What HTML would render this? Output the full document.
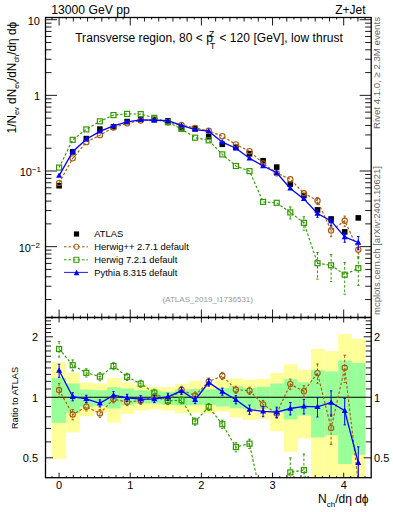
<!DOCTYPE html>
<html><head><meta charset="utf-8"><style>html,body{margin:0;padding:0;background:#fff;width:393px;height:512px;overflow:hidden}svg{display:block}</style></head>
<body><svg width="393" height="512" viewBox="0 0 393 512">
<rect width="393" height="512" fill="#fff"/>
<defs><clipPath id="cm"><rect x="45.5" y="17.5" width="325.70" height="300.00"/></clipPath><clipPath id="cr"><rect x="45.5" y="317.5" width="325.70" height="160.20"/></clipPath></defs>
<rect x="51.60" y="362.10" width="14.60" height="96.70" fill="#ffff99"/><rect x="66.20" y="372.90" width="13.60" height="59.50" fill="#ffff99"/><rect x="79.80" y="382.50" width="13.60" height="33.80" fill="#ffff99"/><rect x="93.40" y="383.50" width="13.60" height="29.00" fill="#ffff99"/><rect x="107.00" y="378.00" width="13.60" height="44.50" fill="#ffff99"/><rect x="120.60" y="382.50" width="13.60" height="31.40" fill="#ffff99"/><rect x="134.20" y="385.00" width="13.60" height="25.50" fill="#ffff99"/><rect x="147.80" y="387.00" width="13.60" height="22.50" fill="#ffff99"/><rect x="161.40" y="387.00" width="13.60" height="23.60" fill="#ffff99"/><rect x="175.00" y="383.80" width="13.60" height="29.40" fill="#ffff99"/><rect x="188.60" y="380.80" width="13.60" height="31.70" fill="#ffff99"/><rect x="202.20" y="384.50" width="13.60" height="29.00" fill="#ffff99"/><rect x="215.80" y="379.50" width="13.60" height="32.00" fill="#ffff99"/><rect x="229.40" y="378.40" width="13.60" height="39.10" fill="#ffff99"/><rect x="243.00" y="379.80" width="13.60" height="40.20" fill="#ffff99"/><rect x="256.60" y="378.80" width="13.60" height="40.20" fill="#ffff99"/><rect x="270.20" y="373.00" width="13.60" height="58.30" fill="#ffff99"/><rect x="283.80" y="364.30" width="13.60" height="87.50" fill="#ffff99"/><rect x="297.40" y="369.80" width="13.60" height="68.70" fill="#ffff99"/><rect x="311.00" y="349.00" width="13.60" height="128.70" fill="#ffff99"/><rect x="324.60" y="351.10" width="13.60" height="126.60" fill="#ffff99"/><rect x="338.20" y="334.10" width="13.60" height="143.60" fill="#ffff99"/><rect x="351.80" y="338.80" width="13.60" height="138.90" fill="#ffff99"/><rect x="51.60" y="378.00" width="14.60" height="44.80" fill="#99ff99"/><rect x="66.20" y="383.50" width="13.60" height="29.50" fill="#99ff99"/><rect x="79.80" y="389.60" width="13.60" height="17.30" fill="#99ff99"/><rect x="93.40" y="390.30" width="13.60" height="15.40" fill="#99ff99"/><rect x="107.00" y="387.30" width="13.60" height="21.20" fill="#99ff99"/><rect x="120.60" y="388.50" width="13.60" height="16.70" fill="#99ff99"/><rect x="134.20" y="390.30" width="13.60" height="13.20" fill="#99ff99"/><rect x="147.80" y="391.00" width="13.60" height="12.50" fill="#99ff99"/><rect x="161.40" y="391.80" width="13.60" height="12.90" fill="#99ff99"/><rect x="175.00" y="389.40" width="13.60" height="16.10" fill="#99ff99"/><rect x="188.60" y="389.00" width="13.60" height="16.20" fill="#99ff99"/><rect x="202.20" y="389.50" width="13.60" height="15.40" fill="#99ff99"/><rect x="215.80" y="388.00" width="13.60" height="18.50" fill="#99ff99"/><rect x="229.40" y="386.30" width="13.60" height="21.90" fill="#99ff99"/><rect x="243.00" y="388.00" width="13.60" height="21.30" fill="#99ff99"/><rect x="256.60" y="386.80" width="13.60" height="22.60" fill="#99ff99"/><rect x="270.20" y="383.50" width="13.60" height="29.00" fill="#99ff99"/><rect x="283.80" y="379.20" width="13.60" height="40.30" fill="#99ff99"/><rect x="297.40" y="382.40" width="13.60" height="33.10" fill="#99ff99"/><rect x="311.00" y="370.20" width="13.60" height="67.30" fill="#99ff99"/><rect x="324.60" y="371.50" width="13.60" height="63.70" fill="#99ff99"/><rect x="338.20" y="360.50" width="13.60" height="103.50" fill="#99ff99"/><rect x="351.80" y="363.00" width="13.60" height="91.70" fill="#99ff99"/><line x1="45.5" y1="397.30" x2="371.2" y2="397.30" stroke="#000" stroke-width="1.1"/>
<line x1="51.98" y1="17.50" x2="51.98" y2="19.50" stroke="#000" stroke-width="0.9"/><line x1="51.98" y1="315.50" x2="51.98" y2="319.10" stroke="#000" stroke-width="0.9"/><line x1="51.98" y1="477.70" x2="51.98" y2="476.10" stroke="#000" stroke-width="0.9"/><line x1="59.10" y1="17.50" x2="59.10" y2="25.50" stroke="#000" stroke-width="0.9"/><line x1="59.10" y1="309.50" x2="59.10" y2="322.50" stroke="#000" stroke-width="0.9"/><line x1="59.10" y1="477.70" x2="59.10" y2="472.70" stroke="#000" stroke-width="0.9"/><line x1="66.22" y1="17.50" x2="66.22" y2="19.50" stroke="#000" stroke-width="0.9"/><line x1="66.22" y1="315.50" x2="66.22" y2="319.10" stroke="#000" stroke-width="0.9"/><line x1="66.22" y1="477.70" x2="66.22" y2="476.10" stroke="#000" stroke-width="0.9"/><line x1="73.33" y1="17.50" x2="73.33" y2="21.50" stroke="#000" stroke-width="0.9"/><line x1="73.33" y1="313.50" x2="73.33" y2="320.30" stroke="#000" stroke-width="0.9"/><line x1="73.33" y1="477.70" x2="73.33" y2="474.90" stroke="#000" stroke-width="0.9"/><line x1="80.45" y1="17.50" x2="80.45" y2="19.50" stroke="#000" stroke-width="0.9"/><line x1="80.45" y1="315.50" x2="80.45" y2="319.10" stroke="#000" stroke-width="0.9"/><line x1="80.45" y1="477.70" x2="80.45" y2="476.10" stroke="#000" stroke-width="0.9"/><line x1="87.56" y1="17.50" x2="87.56" y2="21.50" stroke="#000" stroke-width="0.9"/><line x1="87.56" y1="313.50" x2="87.56" y2="320.30" stroke="#000" stroke-width="0.9"/><line x1="87.56" y1="477.70" x2="87.56" y2="474.90" stroke="#000" stroke-width="0.9"/><line x1="94.68" y1="17.50" x2="94.68" y2="19.50" stroke="#000" stroke-width="0.9"/><line x1="94.68" y1="315.50" x2="94.68" y2="319.10" stroke="#000" stroke-width="0.9"/><line x1="94.68" y1="477.70" x2="94.68" y2="476.10" stroke="#000" stroke-width="0.9"/><line x1="101.79" y1="17.50" x2="101.79" y2="21.50" stroke="#000" stroke-width="0.9"/><line x1="101.79" y1="313.50" x2="101.79" y2="320.30" stroke="#000" stroke-width="0.9"/><line x1="101.79" y1="477.70" x2="101.79" y2="474.90" stroke="#000" stroke-width="0.9"/><line x1="108.91" y1="17.50" x2="108.91" y2="19.50" stroke="#000" stroke-width="0.9"/><line x1="108.91" y1="315.50" x2="108.91" y2="319.10" stroke="#000" stroke-width="0.9"/><line x1="108.91" y1="477.70" x2="108.91" y2="476.10" stroke="#000" stroke-width="0.9"/><line x1="116.02" y1="17.50" x2="116.02" y2="21.50" stroke="#000" stroke-width="0.9"/><line x1="116.02" y1="313.50" x2="116.02" y2="320.30" stroke="#000" stroke-width="0.9"/><line x1="116.02" y1="477.70" x2="116.02" y2="474.90" stroke="#000" stroke-width="0.9"/><line x1="123.14" y1="17.50" x2="123.14" y2="19.50" stroke="#000" stroke-width="0.9"/><line x1="123.14" y1="315.50" x2="123.14" y2="319.10" stroke="#000" stroke-width="0.9"/><line x1="123.14" y1="477.70" x2="123.14" y2="476.10" stroke="#000" stroke-width="0.9"/><line x1="130.25" y1="17.50" x2="130.25" y2="25.50" stroke="#000" stroke-width="0.9"/><line x1="130.25" y1="309.50" x2="130.25" y2="322.50" stroke="#000" stroke-width="0.9"/><line x1="130.25" y1="477.70" x2="130.25" y2="472.70" stroke="#000" stroke-width="0.9"/><line x1="137.37" y1="17.50" x2="137.37" y2="19.50" stroke="#000" stroke-width="0.9"/><line x1="137.37" y1="315.50" x2="137.37" y2="319.10" stroke="#000" stroke-width="0.9"/><line x1="137.37" y1="477.70" x2="137.37" y2="476.10" stroke="#000" stroke-width="0.9"/><line x1="144.48" y1="17.50" x2="144.48" y2="21.50" stroke="#000" stroke-width="0.9"/><line x1="144.48" y1="313.50" x2="144.48" y2="320.30" stroke="#000" stroke-width="0.9"/><line x1="144.48" y1="477.70" x2="144.48" y2="474.90" stroke="#000" stroke-width="0.9"/><line x1="151.59" y1="17.50" x2="151.59" y2="19.50" stroke="#000" stroke-width="0.9"/><line x1="151.59" y1="315.50" x2="151.59" y2="319.10" stroke="#000" stroke-width="0.9"/><line x1="151.59" y1="477.70" x2="151.59" y2="476.10" stroke="#000" stroke-width="0.9"/><line x1="158.71" y1="17.50" x2="158.71" y2="21.50" stroke="#000" stroke-width="0.9"/><line x1="158.71" y1="313.50" x2="158.71" y2="320.30" stroke="#000" stroke-width="0.9"/><line x1="158.71" y1="477.70" x2="158.71" y2="474.90" stroke="#000" stroke-width="0.9"/><line x1="165.83" y1="17.50" x2="165.83" y2="19.50" stroke="#000" stroke-width="0.9"/><line x1="165.83" y1="315.50" x2="165.83" y2="319.10" stroke="#000" stroke-width="0.9"/><line x1="165.83" y1="477.70" x2="165.83" y2="476.10" stroke="#000" stroke-width="0.9"/><line x1="172.94" y1="17.50" x2="172.94" y2="21.50" stroke="#000" stroke-width="0.9"/><line x1="172.94" y1="313.50" x2="172.94" y2="320.30" stroke="#000" stroke-width="0.9"/><line x1="172.94" y1="477.70" x2="172.94" y2="474.90" stroke="#000" stroke-width="0.9"/><line x1="180.06" y1="17.50" x2="180.06" y2="19.50" stroke="#000" stroke-width="0.9"/><line x1="180.06" y1="315.50" x2="180.06" y2="319.10" stroke="#000" stroke-width="0.9"/><line x1="180.06" y1="477.70" x2="180.06" y2="476.10" stroke="#000" stroke-width="0.9"/><line x1="187.17" y1="17.50" x2="187.17" y2="21.50" stroke="#000" stroke-width="0.9"/><line x1="187.17" y1="313.50" x2="187.17" y2="320.30" stroke="#000" stroke-width="0.9"/><line x1="187.17" y1="477.70" x2="187.17" y2="474.90" stroke="#000" stroke-width="0.9"/><line x1="194.28" y1="17.50" x2="194.28" y2="19.50" stroke="#000" stroke-width="0.9"/><line x1="194.28" y1="315.50" x2="194.28" y2="319.10" stroke="#000" stroke-width="0.9"/><line x1="194.28" y1="477.70" x2="194.28" y2="476.10" stroke="#000" stroke-width="0.9"/><line x1="201.40" y1="17.50" x2="201.40" y2="25.50" stroke="#000" stroke-width="0.9"/><line x1="201.40" y1="309.50" x2="201.40" y2="322.50" stroke="#000" stroke-width="0.9"/><line x1="201.40" y1="477.70" x2="201.40" y2="472.70" stroke="#000" stroke-width="0.9"/><line x1="208.52" y1="17.50" x2="208.52" y2="19.50" stroke="#000" stroke-width="0.9"/><line x1="208.52" y1="315.50" x2="208.52" y2="319.10" stroke="#000" stroke-width="0.9"/><line x1="208.52" y1="477.70" x2="208.52" y2="476.10" stroke="#000" stroke-width="0.9"/><line x1="215.63" y1="17.50" x2="215.63" y2="21.50" stroke="#000" stroke-width="0.9"/><line x1="215.63" y1="313.50" x2="215.63" y2="320.30" stroke="#000" stroke-width="0.9"/><line x1="215.63" y1="477.70" x2="215.63" y2="474.90" stroke="#000" stroke-width="0.9"/><line x1="222.75" y1="17.50" x2="222.75" y2="19.50" stroke="#000" stroke-width="0.9"/><line x1="222.75" y1="315.50" x2="222.75" y2="319.10" stroke="#000" stroke-width="0.9"/><line x1="222.75" y1="477.70" x2="222.75" y2="476.10" stroke="#000" stroke-width="0.9"/><line x1="229.86" y1="17.50" x2="229.86" y2="21.50" stroke="#000" stroke-width="0.9"/><line x1="229.86" y1="313.50" x2="229.86" y2="320.30" stroke="#000" stroke-width="0.9"/><line x1="229.86" y1="477.70" x2="229.86" y2="474.90" stroke="#000" stroke-width="0.9"/><line x1="236.97" y1="17.50" x2="236.97" y2="19.50" stroke="#000" stroke-width="0.9"/><line x1="236.97" y1="315.50" x2="236.97" y2="319.10" stroke="#000" stroke-width="0.9"/><line x1="236.97" y1="477.70" x2="236.97" y2="476.10" stroke="#000" stroke-width="0.9"/><line x1="244.09" y1="17.50" x2="244.09" y2="21.50" stroke="#000" stroke-width="0.9"/><line x1="244.09" y1="313.50" x2="244.09" y2="320.30" stroke="#000" stroke-width="0.9"/><line x1="244.09" y1="477.70" x2="244.09" y2="474.90" stroke="#000" stroke-width="0.9"/><line x1="251.21" y1="17.50" x2="251.21" y2="19.50" stroke="#000" stroke-width="0.9"/><line x1="251.21" y1="315.50" x2="251.21" y2="319.10" stroke="#000" stroke-width="0.9"/><line x1="251.21" y1="477.70" x2="251.21" y2="476.10" stroke="#000" stroke-width="0.9"/><line x1="258.32" y1="17.50" x2="258.32" y2="21.50" stroke="#000" stroke-width="0.9"/><line x1="258.32" y1="313.50" x2="258.32" y2="320.30" stroke="#000" stroke-width="0.9"/><line x1="258.32" y1="477.70" x2="258.32" y2="474.90" stroke="#000" stroke-width="0.9"/><line x1="265.44" y1="17.50" x2="265.44" y2="19.50" stroke="#000" stroke-width="0.9"/><line x1="265.44" y1="315.50" x2="265.44" y2="319.10" stroke="#000" stroke-width="0.9"/><line x1="265.44" y1="477.70" x2="265.44" y2="476.10" stroke="#000" stroke-width="0.9"/><line x1="272.55" y1="17.50" x2="272.55" y2="25.50" stroke="#000" stroke-width="0.9"/><line x1="272.55" y1="309.50" x2="272.55" y2="322.50" stroke="#000" stroke-width="0.9"/><line x1="272.55" y1="477.70" x2="272.55" y2="472.70" stroke="#000" stroke-width="0.9"/><line x1="279.67" y1="17.50" x2="279.67" y2="19.50" stroke="#000" stroke-width="0.9"/><line x1="279.67" y1="315.50" x2="279.67" y2="319.10" stroke="#000" stroke-width="0.9"/><line x1="279.67" y1="477.70" x2="279.67" y2="476.10" stroke="#000" stroke-width="0.9"/><line x1="286.78" y1="17.50" x2="286.78" y2="21.50" stroke="#000" stroke-width="0.9"/><line x1="286.78" y1="313.50" x2="286.78" y2="320.30" stroke="#000" stroke-width="0.9"/><line x1="286.78" y1="477.70" x2="286.78" y2="474.90" stroke="#000" stroke-width="0.9"/><line x1="293.90" y1="17.50" x2="293.90" y2="19.50" stroke="#000" stroke-width="0.9"/><line x1="293.90" y1="315.50" x2="293.90" y2="319.10" stroke="#000" stroke-width="0.9"/><line x1="293.90" y1="477.70" x2="293.90" y2="476.10" stroke="#000" stroke-width="0.9"/><line x1="301.01" y1="17.50" x2="301.01" y2="21.50" stroke="#000" stroke-width="0.9"/><line x1="301.01" y1="313.50" x2="301.01" y2="320.30" stroke="#000" stroke-width="0.9"/><line x1="301.01" y1="477.70" x2="301.01" y2="474.90" stroke="#000" stroke-width="0.9"/><line x1="308.13" y1="17.50" x2="308.13" y2="19.50" stroke="#000" stroke-width="0.9"/><line x1="308.13" y1="315.50" x2="308.13" y2="319.10" stroke="#000" stroke-width="0.9"/><line x1="308.13" y1="477.70" x2="308.13" y2="476.10" stroke="#000" stroke-width="0.9"/><line x1="315.24" y1="17.50" x2="315.24" y2="21.50" stroke="#000" stroke-width="0.9"/><line x1="315.24" y1="313.50" x2="315.24" y2="320.30" stroke="#000" stroke-width="0.9"/><line x1="315.24" y1="477.70" x2="315.24" y2="474.90" stroke="#000" stroke-width="0.9"/><line x1="322.36" y1="17.50" x2="322.36" y2="19.50" stroke="#000" stroke-width="0.9"/><line x1="322.36" y1="315.50" x2="322.36" y2="319.10" stroke="#000" stroke-width="0.9"/><line x1="322.36" y1="477.70" x2="322.36" y2="476.10" stroke="#000" stroke-width="0.9"/><line x1="329.47" y1="17.50" x2="329.47" y2="21.50" stroke="#000" stroke-width="0.9"/><line x1="329.47" y1="313.50" x2="329.47" y2="320.30" stroke="#000" stroke-width="0.9"/><line x1="329.47" y1="477.70" x2="329.47" y2="474.90" stroke="#000" stroke-width="0.9"/><line x1="336.59" y1="17.50" x2="336.59" y2="19.50" stroke="#000" stroke-width="0.9"/><line x1="336.59" y1="315.50" x2="336.59" y2="319.10" stroke="#000" stroke-width="0.9"/><line x1="336.59" y1="477.70" x2="336.59" y2="476.10" stroke="#000" stroke-width="0.9"/><line x1="343.70" y1="17.50" x2="343.70" y2="25.50" stroke="#000" stroke-width="0.9"/><line x1="343.70" y1="309.50" x2="343.70" y2="322.50" stroke="#000" stroke-width="0.9"/><line x1="343.70" y1="477.70" x2="343.70" y2="472.70" stroke="#000" stroke-width="0.9"/><line x1="350.81" y1="17.50" x2="350.81" y2="19.50" stroke="#000" stroke-width="0.9"/><line x1="350.81" y1="315.50" x2="350.81" y2="319.10" stroke="#000" stroke-width="0.9"/><line x1="350.81" y1="477.70" x2="350.81" y2="476.10" stroke="#000" stroke-width="0.9"/><line x1="357.93" y1="17.50" x2="357.93" y2="21.50" stroke="#000" stroke-width="0.9"/><line x1="357.93" y1="313.50" x2="357.93" y2="320.30" stroke="#000" stroke-width="0.9"/><line x1="357.93" y1="477.70" x2="357.93" y2="474.90" stroke="#000" stroke-width="0.9"/><line x1="365.05" y1="17.50" x2="365.05" y2="19.50" stroke="#000" stroke-width="0.9"/><line x1="365.05" y1="315.50" x2="365.05" y2="319.10" stroke="#000" stroke-width="0.9"/><line x1="365.05" y1="477.70" x2="365.05" y2="476.10" stroke="#000" stroke-width="0.9"/><line x1="45.50" y1="299.53" x2="51.50" y2="299.53" stroke="#000" stroke-width="0.9"/><line x1="371.20" y1="299.53" x2="365.20" y2="299.53" stroke="#000" stroke-width="0.9"/><line x1="45.50" y1="286.21" x2="51.50" y2="286.21" stroke="#000" stroke-width="0.9"/><line x1="371.20" y1="286.21" x2="365.20" y2="286.21" stroke="#000" stroke-width="0.9"/><line x1="45.50" y1="276.75" x2="51.50" y2="276.75" stroke="#000" stroke-width="0.9"/><line x1="371.20" y1="276.75" x2="365.20" y2="276.75" stroke="#000" stroke-width="0.9"/><line x1="45.50" y1="269.42" x2="51.50" y2="269.42" stroke="#000" stroke-width="0.9"/><line x1="371.20" y1="269.42" x2="365.20" y2="269.42" stroke="#000" stroke-width="0.9"/><line x1="45.50" y1="263.43" x2="51.50" y2="263.43" stroke="#000" stroke-width="0.9"/><line x1="371.20" y1="263.43" x2="365.20" y2="263.43" stroke="#000" stroke-width="0.9"/><line x1="45.50" y1="258.37" x2="51.50" y2="258.37" stroke="#000" stroke-width="0.9"/><line x1="371.20" y1="258.37" x2="365.20" y2="258.37" stroke="#000" stroke-width="0.9"/><line x1="45.50" y1="253.98" x2="51.50" y2="253.98" stroke="#000" stroke-width="0.9"/><line x1="371.20" y1="253.98" x2="365.20" y2="253.98" stroke="#000" stroke-width="0.9"/><line x1="45.50" y1="250.11" x2="51.50" y2="250.11" stroke="#000" stroke-width="0.9"/><line x1="371.20" y1="250.11" x2="365.20" y2="250.11" stroke="#000" stroke-width="0.9"/><line x1="45.50" y1="246.65" x2="57.00" y2="246.65" stroke="#000" stroke-width="0.9"/><line x1="371.20" y1="246.65" x2="359.70" y2="246.65" stroke="#000" stroke-width="0.9"/><line x1="45.50" y1="223.88" x2="51.50" y2="223.88" stroke="#000" stroke-width="0.9"/><line x1="371.20" y1="223.88" x2="365.20" y2="223.88" stroke="#000" stroke-width="0.9"/><line x1="45.50" y1="210.56" x2="51.50" y2="210.56" stroke="#000" stroke-width="0.9"/><line x1="371.20" y1="210.56" x2="365.20" y2="210.56" stroke="#000" stroke-width="0.9"/><line x1="45.50" y1="201.10" x2="51.50" y2="201.10" stroke="#000" stroke-width="0.9"/><line x1="371.20" y1="201.10" x2="365.20" y2="201.10" stroke="#000" stroke-width="0.9"/><line x1="45.50" y1="193.77" x2="51.50" y2="193.77" stroke="#000" stroke-width="0.9"/><line x1="371.20" y1="193.77" x2="365.20" y2="193.77" stroke="#000" stroke-width="0.9"/><line x1="45.50" y1="187.78" x2="51.50" y2="187.78" stroke="#000" stroke-width="0.9"/><line x1="371.20" y1="187.78" x2="365.20" y2="187.78" stroke="#000" stroke-width="0.9"/><line x1="45.50" y1="182.72" x2="51.50" y2="182.72" stroke="#000" stroke-width="0.9"/><line x1="371.20" y1="182.72" x2="365.20" y2="182.72" stroke="#000" stroke-width="0.9"/><line x1="45.50" y1="178.33" x2="51.50" y2="178.33" stroke="#000" stroke-width="0.9"/><line x1="371.20" y1="178.33" x2="365.20" y2="178.33" stroke="#000" stroke-width="0.9"/><line x1="45.50" y1="174.46" x2="51.50" y2="174.46" stroke="#000" stroke-width="0.9"/><line x1="371.20" y1="174.46" x2="365.20" y2="174.46" stroke="#000" stroke-width="0.9"/><line x1="45.50" y1="171.00" x2="57.00" y2="171.00" stroke="#000" stroke-width="0.9"/><line x1="371.20" y1="171.00" x2="359.70" y2="171.00" stroke="#000" stroke-width="0.9"/><line x1="45.50" y1="148.23" x2="51.50" y2="148.23" stroke="#000" stroke-width="0.9"/><line x1="371.20" y1="148.23" x2="365.20" y2="148.23" stroke="#000" stroke-width="0.9"/><line x1="45.50" y1="134.91" x2="51.50" y2="134.91" stroke="#000" stroke-width="0.9"/><line x1="371.20" y1="134.91" x2="365.20" y2="134.91" stroke="#000" stroke-width="0.9"/><line x1="45.50" y1="125.45" x2="51.50" y2="125.45" stroke="#000" stroke-width="0.9"/><line x1="371.20" y1="125.45" x2="365.20" y2="125.45" stroke="#000" stroke-width="0.9"/><line x1="45.50" y1="118.12" x2="51.50" y2="118.12" stroke="#000" stroke-width="0.9"/><line x1="371.20" y1="118.12" x2="365.20" y2="118.12" stroke="#000" stroke-width="0.9"/><line x1="45.50" y1="112.13" x2="51.50" y2="112.13" stroke="#000" stroke-width="0.9"/><line x1="371.20" y1="112.13" x2="365.20" y2="112.13" stroke="#000" stroke-width="0.9"/><line x1="45.50" y1="107.07" x2="51.50" y2="107.07" stroke="#000" stroke-width="0.9"/><line x1="371.20" y1="107.07" x2="365.20" y2="107.07" stroke="#000" stroke-width="0.9"/><line x1="45.50" y1="102.68" x2="51.50" y2="102.68" stroke="#000" stroke-width="0.9"/><line x1="371.20" y1="102.68" x2="365.20" y2="102.68" stroke="#000" stroke-width="0.9"/><line x1="45.50" y1="98.81" x2="51.50" y2="98.81" stroke="#000" stroke-width="0.9"/><line x1="371.20" y1="98.81" x2="365.20" y2="98.81" stroke="#000" stroke-width="0.9"/><line x1="45.50" y1="95.35" x2="57.00" y2="95.35" stroke="#000" stroke-width="0.9"/><line x1="371.20" y1="95.35" x2="359.70" y2="95.35" stroke="#000" stroke-width="0.9"/><line x1="45.50" y1="72.58" x2="51.50" y2="72.58" stroke="#000" stroke-width="0.9"/><line x1="371.20" y1="72.58" x2="365.20" y2="72.58" stroke="#000" stroke-width="0.9"/><line x1="45.50" y1="59.26" x2="51.50" y2="59.26" stroke="#000" stroke-width="0.9"/><line x1="371.20" y1="59.26" x2="365.20" y2="59.26" stroke="#000" stroke-width="0.9"/><line x1="45.50" y1="49.80" x2="51.50" y2="49.80" stroke="#000" stroke-width="0.9"/><line x1="371.20" y1="49.80" x2="365.20" y2="49.80" stroke="#000" stroke-width="0.9"/><line x1="45.50" y1="42.47" x2="51.50" y2="42.47" stroke="#000" stroke-width="0.9"/><line x1="371.20" y1="42.47" x2="365.20" y2="42.47" stroke="#000" stroke-width="0.9"/><line x1="45.50" y1="36.48" x2="51.50" y2="36.48" stroke="#000" stroke-width="0.9"/><line x1="371.20" y1="36.48" x2="365.20" y2="36.48" stroke="#000" stroke-width="0.9"/><line x1="45.50" y1="31.42" x2="51.50" y2="31.42" stroke="#000" stroke-width="0.9"/><line x1="371.20" y1="31.42" x2="365.20" y2="31.42" stroke="#000" stroke-width="0.9"/><line x1="45.50" y1="27.03" x2="51.50" y2="27.03" stroke="#000" stroke-width="0.9"/><line x1="371.20" y1="27.03" x2="365.20" y2="27.03" stroke="#000" stroke-width="0.9"/><line x1="45.50" y1="23.16" x2="51.50" y2="23.16" stroke="#000" stroke-width="0.9"/><line x1="371.20" y1="23.16" x2="365.20" y2="23.16" stroke="#000" stroke-width="0.9"/><line x1="45.50" y1="19.70" x2="57.00" y2="19.70" stroke="#000" stroke-width="0.9"/><line x1="371.20" y1="19.70" x2="359.70" y2="19.70" stroke="#000" stroke-width="0.9"/><line x1="45.50" y1="457.81" x2="53.00" y2="457.81" stroke="#000" stroke-width="0.9"/><line x1="371.20" y1="457.81" x2="363.70" y2="457.81" stroke="#000" stroke-width="0.9"/><line x1="45.50" y1="441.89" x2="51.00" y2="441.89" stroke="#000" stroke-width="0.9"/><line x1="371.20" y1="441.89" x2="365.70" y2="441.89" stroke="#000" stroke-width="0.9"/><line x1="45.50" y1="428.44" x2="51.00" y2="428.44" stroke="#000" stroke-width="0.9"/><line x1="371.20" y1="428.44" x2="365.70" y2="428.44" stroke="#000" stroke-width="0.9"/><line x1="45.50" y1="416.78" x2="51.00" y2="416.78" stroke="#000" stroke-width="0.9"/><line x1="371.20" y1="416.78" x2="365.70" y2="416.78" stroke="#000" stroke-width="0.9"/><line x1="45.50" y1="406.50" x2="51.00" y2="406.50" stroke="#000" stroke-width="0.9"/><line x1="371.20" y1="406.50" x2="365.70" y2="406.50" stroke="#000" stroke-width="0.9"/><line x1="45.50" y1="388.98" x2="51.00" y2="388.98" stroke="#000" stroke-width="0.9"/><line x1="371.20" y1="388.98" x2="365.70" y2="388.98" stroke="#000" stroke-width="0.9"/><line x1="45.50" y1="381.38" x2="51.00" y2="381.38" stroke="#000" stroke-width="0.9"/><line x1="371.20" y1="381.38" x2="365.70" y2="381.38" stroke="#000" stroke-width="0.9"/><line x1="45.50" y1="374.40" x2="51.00" y2="374.40" stroke="#000" stroke-width="0.9"/><line x1="371.20" y1="374.40" x2="365.70" y2="374.40" stroke="#000" stroke-width="0.9"/><line x1="45.50" y1="367.93" x2="51.00" y2="367.93" stroke="#000" stroke-width="0.9"/><line x1="371.20" y1="367.93" x2="365.70" y2="367.93" stroke="#000" stroke-width="0.9"/><line x1="45.50" y1="361.91" x2="51.00" y2="361.91" stroke="#000" stroke-width="0.9"/><line x1="371.20" y1="361.91" x2="365.70" y2="361.91" stroke="#000" stroke-width="0.9"/><line x1="45.50" y1="356.27" x2="51.00" y2="356.27" stroke="#000" stroke-width="0.9"/><line x1="371.20" y1="356.27" x2="365.70" y2="356.27" stroke="#000" stroke-width="0.9"/><line x1="45.50" y1="350.98" x2="51.00" y2="350.98" stroke="#000" stroke-width="0.9"/><line x1="371.20" y1="350.98" x2="365.70" y2="350.98" stroke="#000" stroke-width="0.9"/><line x1="45.50" y1="345.99" x2="51.00" y2="345.99" stroke="#000" stroke-width="0.9"/><line x1="371.20" y1="345.99" x2="365.70" y2="345.99" stroke="#000" stroke-width="0.9"/><line x1="45.50" y1="341.27" x2="51.00" y2="341.27" stroke="#000" stroke-width="0.9"/><line x1="371.20" y1="341.27" x2="365.70" y2="341.27" stroke="#000" stroke-width="0.9"/><line x1="45.50" y1="336.79" x2="53.00" y2="336.79" stroke="#000" stroke-width="0.9"/><line x1="371.20" y1="336.79" x2="363.70" y2="336.79" stroke="#000" stroke-width="0.9"/><line x1="45.50" y1="332.53" x2="51.00" y2="332.53" stroke="#000" stroke-width="0.9"/><line x1="371.20" y1="332.53" x2="365.70" y2="332.53" stroke="#000" stroke-width="0.9"/><line x1="45.50" y1="328.47" x2="51.00" y2="328.47" stroke="#000" stroke-width="0.9"/><line x1="371.20" y1="328.47" x2="365.70" y2="328.47" stroke="#000" stroke-width="0.9"/><line x1="45.50" y1="324.59" x2="51.00" y2="324.59" stroke="#000" stroke-width="0.9"/><line x1="371.20" y1="324.59" x2="365.70" y2="324.59" stroke="#000" stroke-width="0.9"/><line x1="45.50" y1="320.88" x2="51.00" y2="320.88" stroke="#000" stroke-width="0.9"/><line x1="371.20" y1="320.88" x2="365.70" y2="320.88" stroke="#000" stroke-width="0.9"/>
<g clip-path="url(#cm)"><path d="M59.10,185.70 L72.70,151.90 L86.30,138.60 L99.90,129.10 L113.50,126.80 L127.10,121.60 L140.70,119.20 L154.30,119.60 L167.90,120.90 L181.50,127.80 L195.10,128.60 L208.70,136.70 L222.30,144.30 L235.90,147.30 L249.50,153.70 L263.10,160.70 L276.70,167.10 L290.30,184.20 L303.90,195.50 L317.50,209.90 L331.10,219.00 L344.70,231.90 L358.30,217.90" fill="none" stroke="#000" stroke-width="0"/><rect x="56.30" y="182.90" width="5.6" height="5.6" fill="#000"/><rect x="69.90" y="149.10" width="5.6" height="5.6" fill="#000"/><rect x="83.50" y="135.80" width="5.6" height="5.6" fill="#000"/><rect x="97.10" y="126.30" width="5.6" height="5.6" fill="#000"/><rect x="110.70" y="124.00" width="5.6" height="5.6" fill="#000"/><rect x="124.30" y="118.80" width="5.6" height="5.6" fill="#000"/><rect x="137.90" y="116.40" width="5.6" height="5.6" fill="#000"/><rect x="151.50" y="116.80" width="5.6" height="5.6" fill="#000"/><rect x="165.10" y="118.10" width="5.6" height="5.6" fill="#000"/><rect x="178.70" y="125.00" width="5.6" height="5.6" fill="#000"/><rect x="192.30" y="125.80" width="5.6" height="5.6" fill="#000"/><rect x="205.90" y="133.90" width="5.6" height="5.6" fill="#000"/><rect x="219.50" y="141.50" width="5.6" height="5.6" fill="#000"/><rect x="233.10" y="144.50" width="5.6" height="5.6" fill="#000"/><rect x="246.70" y="150.90" width="5.6" height="5.6" fill="#000"/><rect x="260.30" y="157.90" width="5.6" height="5.6" fill="#000"/><rect x="273.90" y="164.30" width="5.6" height="5.6" fill="#000"/><rect x="287.50" y="181.40" width="5.6" height="5.6" fill="#000"/><rect x="301.10" y="192.70" width="5.6" height="5.6" fill="#000"/><rect x="314.70" y="207.10" width="5.6" height="5.6" fill="#000"/><rect x="328.30" y="216.20" width="5.6" height="5.6" fill="#000"/><rect x="341.90" y="229.10" width="5.6" height="5.6" fill="#000"/><rect x="355.50" y="215.10" width="5.6" height="5.6" fill="#000"/></g><g clip-path="url(#cm)"><path d="M59.10,182.96 L72.70,158.36 L86.30,142.13 L99.90,135.15 L113.50,127.51 L127.10,123.37 L140.70,120.51 L154.30,119.41 L167.90,122.25 L181.50,124.98 L195.10,127.92 L208.70,130.80 L222.30,136.22 L235.90,144.45 L249.50,151.22 L263.10,163.37 L276.70,173.19 L290.30,179.24 L303.90,193.25 L317.50,200.81 L331.10,230.57 L344.70,220.82 L358.30,249.70" fill="none" stroke="#a8580c" stroke-width="1.15" stroke-dasharray="2.6,1.9"/><line x1="317.50" y1="197.38" x2="317.50" y2="204.64" stroke="#a8580c" stroke-width="1" stroke-dasharray="2.6,1.9"/><line x1="316.30" y1="197.38" x2="318.70" y2="197.38" stroke="#a8580c" stroke-width="1"/><line x1="316.30" y1="204.64" x2="318.70" y2="204.64" stroke="#a8580c" stroke-width="1"/><line x1="331.10" y1="225.41" x2="331.10" y2="236.69" stroke="#a8580c" stroke-width="1" stroke-dasharray="2.6,1.9"/><line x1="329.90" y1="225.41" x2="332.30" y2="225.41" stroke="#a8580c" stroke-width="1"/><line x1="329.90" y1="236.69" x2="332.30" y2="236.69" stroke="#a8580c" stroke-width="1"/><line x1="344.70" y1="216.08" x2="344.70" y2="226.35" stroke="#a8580c" stroke-width="1" stroke-dasharray="2.6,1.9"/><line x1="343.50" y1="216.08" x2="345.90" y2="216.08" stroke="#a8580c" stroke-width="1"/><line x1="343.50" y1="226.35" x2="345.90" y2="226.35" stroke="#a8580c" stroke-width="1"/><line x1="358.30" y1="243.06" x2="358.30" y2="258.03" stroke="#a8580c" stroke-width="1" stroke-dasharray="2.6,1.9"/><line x1="357.10" y1="243.06" x2="359.50" y2="243.06" stroke="#a8580c" stroke-width="1"/><line x1="357.10" y1="258.03" x2="359.50" y2="258.03" stroke="#a8580c" stroke-width="1"/><circle cx="59.10" cy="182.96" r="2.65" fill="none" stroke="#a8580c" stroke-width="1.1"/><circle cx="72.70" cy="158.36" r="2.65" fill="none" stroke="#a8580c" stroke-width="1.1"/><circle cx="86.30" cy="142.13" r="2.65" fill="none" stroke="#a8580c" stroke-width="1.1"/><circle cx="99.90" cy="135.15" r="2.65" fill="none" stroke="#a8580c" stroke-width="1.1"/><circle cx="113.50" cy="127.51" r="2.65" fill="none" stroke="#a8580c" stroke-width="1.1"/><circle cx="127.10" cy="123.37" r="2.65" fill="none" stroke="#a8580c" stroke-width="1.1"/><circle cx="140.70" cy="120.51" r="2.65" fill="none" stroke="#a8580c" stroke-width="1.1"/><circle cx="154.30" cy="119.41" r="2.65" fill="none" stroke="#a8580c" stroke-width="1.1"/><circle cx="167.90" cy="122.25" r="2.65" fill="none" stroke="#a8580c" stroke-width="1.1"/><circle cx="181.50" cy="124.98" r="2.65" fill="none" stroke="#a8580c" stroke-width="1.1"/><circle cx="195.10" cy="127.92" r="2.65" fill="none" stroke="#a8580c" stroke-width="1.1"/><circle cx="208.70" cy="130.80" r="2.65" fill="none" stroke="#a8580c" stroke-width="1.1"/><circle cx="222.30" cy="136.22" r="2.65" fill="none" stroke="#a8580c" stroke-width="1.1"/><circle cx="235.90" cy="144.45" r="2.65" fill="none" stroke="#a8580c" stroke-width="1.1"/><circle cx="249.50" cy="151.22" r="2.65" fill="none" stroke="#a8580c" stroke-width="1.1"/><circle cx="263.10" cy="163.37" r="2.65" fill="none" stroke="#a8580c" stroke-width="1.1"/><circle cx="276.70" cy="173.19" r="2.65" fill="none" stroke="#a8580c" stroke-width="1.1"/><circle cx="290.30" cy="179.24" r="2.65" fill="none" stroke="#a8580c" stroke-width="1.1"/><circle cx="303.90" cy="193.25" r="2.65" fill="none" stroke="#a8580c" stroke-width="1.1"/><circle cx="317.50" cy="200.81" r="2.65" fill="none" stroke="#a8580c" stroke-width="1.1"/><circle cx="331.10" cy="230.57" r="2.65" fill="none" stroke="#a8580c" stroke-width="1.1"/><circle cx="344.70" cy="220.82" r="2.65" fill="none" stroke="#a8580c" stroke-width="1.1"/><circle cx="358.30" cy="249.70" r="2.65" fill="none" stroke="#a8580c" stroke-width="1.1"/></g><g clip-path="url(#cm)"><path d="M59.10,167.56 L72.70,139.84 L86.30,129.40 L99.90,121.32 L113.50,115.08 L127.10,113.90 L140.70,114.09 L154.30,117.87 L167.90,122.25 L181.50,128.89 L195.10,137.69 L208.70,140.34 L222.30,154.40 L235.90,166.01 L249.50,171.13 L263.10,201.90 L276.70,202.80 L290.30,212.41 L303.90,222.81 L317.50,263.20 L331.10,265.30 L344.70,274.70 L358.30,268.10" fill="none" stroke="#339900" stroke-width="1.15" stroke-dasharray="2.6,1.9"/><line x1="290.30" y1="206.95" x2="290.30" y2="218.96" stroke="#339900" stroke-width="1" stroke-dasharray="2.6,1.9"/><line x1="289.10" y1="206.95" x2="291.50" y2="206.95" stroke="#339900" stroke-width="1"/><line x1="289.10" y1="218.96" x2="291.50" y2="218.96" stroke="#339900" stroke-width="1"/><line x1="303.90" y1="216.79" x2="303.90" y2="230.19" stroke="#339900" stroke-width="1" stroke-dasharray="2.6,1.9"/><line x1="302.70" y1="216.79" x2="305.10" y2="216.79" stroke="#339900" stroke-width="1"/><line x1="302.70" y1="230.19" x2="305.10" y2="230.19" stroke="#339900" stroke-width="1"/><line x1="317.50" y1="252.50" x2="317.50" y2="279.17" stroke="#339900" stroke-width="1" stroke-dasharray="2.6,1.9"/><line x1="316.30" y1="252.50" x2="318.70" y2="252.50" stroke="#339900" stroke-width="1"/><line x1="316.30" y1="279.17" x2="318.70" y2="279.17" stroke="#339900" stroke-width="1"/><line x1="331.10" y1="254.48" x2="331.10" y2="281.54" stroke="#339900" stroke-width="1" stroke-dasharray="2.6,1.9"/><line x1="329.90" y1="254.48" x2="332.30" y2="254.48" stroke="#339900" stroke-width="1"/><line x1="329.90" y1="281.54" x2="332.30" y2="281.54" stroke="#339900" stroke-width="1"/><line x1="344.70" y1="262.56" x2="344.70" y2="294.16" stroke="#339900" stroke-width="1" stroke-dasharray="2.6,1.9"/><line x1="343.50" y1="262.56" x2="345.90" y2="262.56" stroke="#339900" stroke-width="1"/><line x1="343.50" y1="294.16" x2="345.90" y2="294.16" stroke="#339900" stroke-width="1"/><line x1="358.30" y1="256.81" x2="358.30" y2="285.44" stroke="#339900" stroke-width="1" stroke-dasharray="2.6,1.9"/><line x1="357.10" y1="256.81" x2="359.50" y2="256.81" stroke="#339900" stroke-width="1"/><line x1="357.10" y1="285.44" x2="359.50" y2="285.44" stroke="#339900" stroke-width="1"/><rect x="56.60" y="165.06" width="5.0" height="5.0" fill="none" stroke="#339900" stroke-width="1.2"/><rect x="70.20" y="137.34" width="5.0" height="5.0" fill="none" stroke="#339900" stroke-width="1.2"/><rect x="83.80" y="126.90" width="5.0" height="5.0" fill="none" stroke="#339900" stroke-width="1.2"/><rect x="97.40" y="118.82" width="5.0" height="5.0" fill="none" stroke="#339900" stroke-width="1.2"/><rect x="111.00" y="112.58" width="5.0" height="5.0" fill="none" stroke="#339900" stroke-width="1.2"/><rect x="124.60" y="111.40" width="5.0" height="5.0" fill="none" stroke="#339900" stroke-width="1.2"/><rect x="138.20" y="111.59" width="5.0" height="5.0" fill="none" stroke="#339900" stroke-width="1.2"/><rect x="151.80" y="115.37" width="5.0" height="5.0" fill="none" stroke="#339900" stroke-width="1.2"/><rect x="165.40" y="119.75" width="5.0" height="5.0" fill="none" stroke="#339900" stroke-width="1.2"/><rect x="179.00" y="126.39" width="5.0" height="5.0" fill="none" stroke="#339900" stroke-width="1.2"/><rect x="192.60" y="135.19" width="5.0" height="5.0" fill="none" stroke="#339900" stroke-width="1.2"/><rect x="206.20" y="137.84" width="5.0" height="5.0" fill="none" stroke="#339900" stroke-width="1.2"/><rect x="219.80" y="151.90" width="5.0" height="5.0" fill="none" stroke="#339900" stroke-width="1.2"/><rect x="233.40" y="163.51" width="5.0" height="5.0" fill="none" stroke="#339900" stroke-width="1.2"/><rect x="247.00" y="168.63" width="5.0" height="5.0" fill="none" stroke="#339900" stroke-width="1.2"/><rect x="260.60" y="199.40" width="5.0" height="5.0" fill="none" stroke="#339900" stroke-width="1.2"/><rect x="274.20" y="200.30" width="5.0" height="5.0" fill="none" stroke="#339900" stroke-width="1.2"/><rect x="287.80" y="209.91" width="5.0" height="5.0" fill="none" stroke="#339900" stroke-width="1.2"/><rect x="301.40" y="220.31" width="5.0" height="5.0" fill="none" stroke="#339900" stroke-width="1.2"/><rect x="315.00" y="260.70" width="5.0" height="5.0" fill="none" stroke="#339900" stroke-width="1.2"/><rect x="328.60" y="262.80" width="5.0" height="5.0" fill="none" stroke="#339900" stroke-width="1.2"/><rect x="342.20" y="272.20" width="5.0" height="5.0" fill="none" stroke="#339900" stroke-width="1.2"/><rect x="355.80" y="265.60" width="5.0" height="5.0" fill="none" stroke="#339900" stroke-width="1.2"/></g><g clip-path="url(#cm)"><path d="M59.10,175.63 L72.70,151.67 L86.30,139.16 L99.90,131.35 L113.50,125.97 L127.10,121.79 L140.70,119.88 L154.30,120.24 L167.90,120.71 L181.50,125.36 L195.10,129.58 L208.70,131.14 L222.30,142.16 L235.90,148.20 L249.50,158.32 L263.10,166.00 L276.70,172.70 L290.30,188.41 L303.90,198.92 L317.50,213.47 L331.10,220.95 L344.70,236.93 L358.30,242.50" fill="none" stroke="#0000ff" stroke-width="1.3"/><line x1="317.50" y1="210.04" x2="317.50" y2="217.30" stroke="#0000ff" stroke-width="1"/><line x1="316.30" y1="210.04" x2="318.70" y2="210.04" stroke="#0000ff" stroke-width="1"/><line x1="316.30" y1="217.30" x2="318.70" y2="217.30" stroke="#0000ff" stroke-width="1"/><line x1="331.10" y1="216.56" x2="331.10" y2="226.02" stroke="#0000ff" stroke-width="1"/><line x1="329.90" y1="216.56" x2="332.30" y2="216.56" stroke="#0000ff" stroke-width="1"/><line x1="329.90" y1="226.02" x2="332.30" y2="226.02" stroke="#0000ff" stroke-width="1"/><line x1="344.70" y1="232.34" x2="344.70" y2="242.27" stroke="#0000ff" stroke-width="1"/><line x1="343.50" y1="232.34" x2="345.90" y2="232.34" stroke="#0000ff" stroke-width="1"/><line x1="343.50" y1="242.27" x2="345.90" y2="242.27" stroke="#0000ff" stroke-width="1"/><line x1="358.30" y1="236.51" x2="358.30" y2="249.83" stroke="#0000ff" stroke-width="1"/><line x1="357.10" y1="236.51" x2="359.50" y2="236.51" stroke="#0000ff" stroke-width="1"/><line x1="357.10" y1="249.83" x2="359.50" y2="249.83" stroke="#0000ff" stroke-width="1"/><path d="M59.10,172.43 L62.10,177.83 L56.10,177.83 Z" fill="#0000ff"/><path d="M72.70,148.47 L75.70,153.87 L69.70,153.87 Z" fill="#0000ff"/><path d="M86.30,135.96 L89.30,141.36 L83.30,141.36 Z" fill="#0000ff"/><path d="M99.90,128.15 L102.90,133.55 L96.90,133.55 Z" fill="#0000ff"/><path d="M113.50,122.77 L116.50,128.17 L110.50,128.17 Z" fill="#0000ff"/><path d="M127.10,118.59 L130.10,123.99 L124.10,123.99 Z" fill="#0000ff"/><path d="M140.70,116.68 L143.70,122.08 L137.70,122.08 Z" fill="#0000ff"/><path d="M154.30,117.04 L157.30,122.44 L151.30,122.44 Z" fill="#0000ff"/><path d="M167.90,117.51 L170.90,122.91 L164.90,122.91 Z" fill="#0000ff"/><path d="M181.50,122.16 L184.50,127.56 L178.50,127.56 Z" fill="#0000ff"/><path d="M195.10,126.38 L198.10,131.78 L192.10,131.78 Z" fill="#0000ff"/><path d="M208.70,127.94 L211.70,133.34 L205.70,133.34 Z" fill="#0000ff"/><path d="M222.30,138.96 L225.30,144.36 L219.30,144.36 Z" fill="#0000ff"/><path d="M235.90,145.00 L238.90,150.40 L232.90,150.40 Z" fill="#0000ff"/><path d="M249.50,155.12 L252.50,160.52 L246.50,160.52 Z" fill="#0000ff"/><path d="M263.10,162.80 L266.10,168.20 L260.10,168.20 Z" fill="#0000ff"/><path d="M276.70,169.50 L279.70,174.90 L273.70,174.90 Z" fill="#0000ff"/><path d="M290.30,185.21 L293.30,190.61 L287.30,190.61 Z" fill="#0000ff"/><path d="M303.90,195.72 L306.90,201.12 L300.90,201.12 Z" fill="#0000ff"/><path d="M317.50,210.27 L320.50,215.67 L314.50,215.67 Z" fill="#0000ff"/><path d="M331.10,217.75 L334.10,223.15 L328.10,223.15 Z" fill="#0000ff"/><path d="M344.70,233.73 L347.70,239.13 L341.70,239.13 Z" fill="#0000ff"/><path d="M358.30,239.30 L361.30,244.70 L355.30,244.70 Z" fill="#0000ff"/></g>
<g clip-path="url(#cr)"><path d="M59.10,390.00 L72.70,414.50 L86.30,406.70 L99.90,413.40 L113.50,399.20 L127.10,402.00 L140.70,400.80 L154.30,396.80 L167.90,400.90 L181.50,389.80 L195.10,395.50 L208.70,381.60 L222.30,375.80 L235.90,389.70 L249.50,390.70 L263.10,404.40 L276.70,413.50 L290.30,384.10 L303.90,391.30 L317.50,373.10 L331.10,428.10 L344.70,367.80 L358.30,481.96" fill="none" stroke="#a8580c" stroke-width="1.15" stroke-dasharray="2.6,1.9"/><line x1="59.10" y1="383.50" x2="59.10" y2="397.02" stroke="#a8580c" stroke-width="1" stroke-dasharray="2.6,1.9"/><line x1="57.90" y1="383.50" x2="60.30" y2="383.50" stroke="#a8580c" stroke-width="1"/><line x1="57.90" y1="397.02" x2="60.30" y2="397.02" stroke="#a8580c" stroke-width="1"/><line x1="72.70" y1="409.50" x2="72.70" y2="419.80" stroke="#a8580c" stroke-width="1" stroke-dasharray="2.6,1.9"/><line x1="71.50" y1="409.50" x2="73.90" y2="409.50" stroke="#a8580c" stroke-width="1"/><line x1="71.50" y1="419.80" x2="73.90" y2="419.80" stroke="#a8580c" stroke-width="1"/><line x1="86.30" y1="402.70" x2="86.30" y2="410.89" stroke="#a8580c" stroke-width="1" stroke-dasharray="2.6,1.9"/><line x1="85.10" y1="402.70" x2="87.50" y2="402.70" stroke="#a8580c" stroke-width="1"/><line x1="85.10" y1="410.89" x2="87.50" y2="410.89" stroke="#a8580c" stroke-width="1"/><line x1="99.90" y1="409.40" x2="99.90" y2="417.59" stroke="#a8580c" stroke-width="1" stroke-dasharray="2.6,1.9"/><line x1="98.70" y1="409.40" x2="101.10" y2="409.40" stroke="#a8580c" stroke-width="1"/><line x1="98.70" y1="417.59" x2="101.10" y2="417.59" stroke="#a8580c" stroke-width="1"/><line x1="113.50" y1="395.70" x2="113.50" y2="402.85" stroke="#a8580c" stroke-width="1" stroke-dasharray="2.6,1.9"/><line x1="112.30" y1="395.70" x2="114.70" y2="395.70" stroke="#a8580c" stroke-width="1"/><line x1="112.30" y1="402.85" x2="114.70" y2="402.85" stroke="#a8580c" stroke-width="1"/><line x1="127.10" y1="398.50" x2="127.10" y2="405.65" stroke="#a8580c" stroke-width="1" stroke-dasharray="2.6,1.9"/><line x1="125.90" y1="398.50" x2="128.30" y2="398.50" stroke="#a8580c" stroke-width="1"/><line x1="125.90" y1="405.65" x2="128.30" y2="405.65" stroke="#a8580c" stroke-width="1"/><line x1="140.70" y1="397.30" x2="140.70" y2="404.45" stroke="#a8580c" stroke-width="1" stroke-dasharray="2.6,1.9"/><line x1="139.50" y1="397.30" x2="141.90" y2="397.30" stroke="#a8580c" stroke-width="1"/><line x1="139.50" y1="404.45" x2="141.90" y2="404.45" stroke="#a8580c" stroke-width="1"/><line x1="154.30" y1="393.30" x2="154.30" y2="400.45" stroke="#a8580c" stroke-width="1" stroke-dasharray="2.6,1.9"/><line x1="153.10" y1="393.30" x2="155.50" y2="393.30" stroke="#a8580c" stroke-width="1"/><line x1="153.10" y1="400.45" x2="155.50" y2="400.45" stroke="#a8580c" stroke-width="1"/><line x1="167.90" y1="397.40" x2="167.90" y2="404.55" stroke="#a8580c" stroke-width="1" stroke-dasharray="2.6,1.9"/><line x1="166.70" y1="397.40" x2="169.10" y2="397.40" stroke="#a8580c" stroke-width="1"/><line x1="166.70" y1="404.55" x2="169.10" y2="404.55" stroke="#a8580c" stroke-width="1"/><line x1="181.50" y1="386.30" x2="181.50" y2="393.45" stroke="#a8580c" stroke-width="1" stroke-dasharray="2.6,1.9"/><line x1="180.30" y1="386.30" x2="182.70" y2="386.30" stroke="#a8580c" stroke-width="1"/><line x1="180.30" y1="393.45" x2="182.70" y2="393.45" stroke="#a8580c" stroke-width="1"/><line x1="195.10" y1="392.00" x2="195.10" y2="399.15" stroke="#a8580c" stroke-width="1" stroke-dasharray="2.6,1.9"/><line x1="193.90" y1="392.00" x2="196.30" y2="392.00" stroke="#a8580c" stroke-width="1"/><line x1="193.90" y1="399.15" x2="196.30" y2="399.15" stroke="#a8580c" stroke-width="1"/><line x1="208.70" y1="378.10" x2="208.70" y2="385.25" stroke="#a8580c" stroke-width="1" stroke-dasharray="2.6,1.9"/><line x1="207.50" y1="378.10" x2="209.90" y2="378.10" stroke="#a8580c" stroke-width="1"/><line x1="207.50" y1="385.25" x2="209.90" y2="385.25" stroke="#a8580c" stroke-width="1"/><line x1="222.30" y1="372.30" x2="222.30" y2="379.45" stroke="#a8580c" stroke-width="1" stroke-dasharray="2.6,1.9"/><line x1="221.10" y1="372.30" x2="223.50" y2="372.30" stroke="#a8580c" stroke-width="1"/><line x1="221.10" y1="379.45" x2="223.50" y2="379.45" stroke="#a8580c" stroke-width="1"/><line x1="235.90" y1="386.20" x2="235.90" y2="393.35" stroke="#a8580c" stroke-width="1" stroke-dasharray="2.6,1.9"/><line x1="234.70" y1="386.20" x2="237.10" y2="386.20" stroke="#a8580c" stroke-width="1"/><line x1="234.70" y1="393.35" x2="237.10" y2="393.35" stroke="#a8580c" stroke-width="1"/><line x1="249.50" y1="387.20" x2="249.50" y2="394.35" stroke="#a8580c" stroke-width="1" stroke-dasharray="2.6,1.9"/><line x1="248.30" y1="387.20" x2="250.70" y2="387.20" stroke="#a8580c" stroke-width="1"/><line x1="248.30" y1="394.35" x2="250.70" y2="394.35" stroke="#a8580c" stroke-width="1"/><line x1="263.10" y1="400.40" x2="263.10" y2="408.59" stroke="#a8580c" stroke-width="1" stroke-dasharray="2.6,1.9"/><line x1="261.90" y1="400.40" x2="264.30" y2="400.40" stroke="#a8580c" stroke-width="1"/><line x1="261.90" y1="408.59" x2="264.30" y2="408.59" stroke="#a8580c" stroke-width="1"/><line x1="276.70" y1="409.00" x2="276.70" y2="418.24" stroke="#a8580c" stroke-width="1" stroke-dasharray="2.6,1.9"/><line x1="275.50" y1="409.00" x2="277.90" y2="409.00" stroke="#a8580c" stroke-width="1"/><line x1="275.50" y1="418.24" x2="277.90" y2="418.24" stroke="#a8580c" stroke-width="1"/><line x1="290.30" y1="379.10" x2="290.30" y2="389.40" stroke="#a8580c" stroke-width="1" stroke-dasharray="2.6,1.9"/><line x1="289.10" y1="379.10" x2="291.50" y2="379.10" stroke="#a8580c" stroke-width="1"/><line x1="289.10" y1="389.40" x2="291.50" y2="389.40" stroke="#a8580c" stroke-width="1"/><line x1="303.90" y1="385.80" x2="303.90" y2="397.17" stroke="#a8580c" stroke-width="1" stroke-dasharray="2.6,1.9"/><line x1="302.70" y1="385.80" x2="305.10" y2="385.80" stroke="#a8580c" stroke-width="1"/><line x1="302.70" y1="397.17" x2="305.10" y2="397.17" stroke="#a8580c" stroke-width="1"/><line x1="317.50" y1="363.99" x2="317.50" y2="383.27" stroke="#a8580c" stroke-width="1" stroke-dasharray="2.6,1.9"/><line x1="316.30" y1="363.99" x2="318.70" y2="363.99" stroke="#a8580c" stroke-width="1"/><line x1="316.30" y1="383.27" x2="318.70" y2="383.27" stroke="#a8580c" stroke-width="1"/><line x1="331.10" y1="414.39" x2="331.10" y2="444.37" stroke="#a8580c" stroke-width="1" stroke-dasharray="2.6,1.9"/><line x1="329.90" y1="414.39" x2="332.30" y2="414.39" stroke="#a8580c" stroke-width="1"/><line x1="329.90" y1="444.37" x2="332.30" y2="444.37" stroke="#a8580c" stroke-width="1"/><line x1="344.70" y1="355.22" x2="344.70" y2="382.50" stroke="#a8580c" stroke-width="1" stroke-dasharray="2.6,1.9"/><line x1="343.50" y1="355.22" x2="345.90" y2="355.22" stroke="#a8580c" stroke-width="1"/><line x1="343.50" y1="382.50" x2="345.90" y2="382.50" stroke="#a8580c" stroke-width="1"/><line x1="358.30" y1="464.32" x2="358.30" y2="504.10" stroke="#a8580c" stroke-width="1" stroke-dasharray="2.6,1.9"/><line x1="357.10" y1="464.32" x2="359.50" y2="464.32" stroke="#a8580c" stroke-width="1"/><line x1="357.10" y1="504.10" x2="359.50" y2="504.10" stroke="#a8580c" stroke-width="1"/><circle cx="59.10" cy="390.00" r="2.65" fill="none" stroke="#a8580c" stroke-width="1.1"/><circle cx="72.70" cy="414.50" r="2.65" fill="none" stroke="#a8580c" stroke-width="1.1"/><circle cx="86.30" cy="406.70" r="2.65" fill="none" stroke="#a8580c" stroke-width="1.1"/><circle cx="99.90" cy="413.40" r="2.65" fill="none" stroke="#a8580c" stroke-width="1.1"/><circle cx="113.50" cy="399.20" r="2.65" fill="none" stroke="#a8580c" stroke-width="1.1"/><circle cx="127.10" cy="402.00" r="2.65" fill="none" stroke="#a8580c" stroke-width="1.1"/><circle cx="140.70" cy="400.80" r="2.65" fill="none" stroke="#a8580c" stroke-width="1.1"/><circle cx="154.30" cy="396.80" r="2.65" fill="none" stroke="#a8580c" stroke-width="1.1"/><circle cx="167.90" cy="400.90" r="2.65" fill="none" stroke="#a8580c" stroke-width="1.1"/><circle cx="181.50" cy="389.80" r="2.65" fill="none" stroke="#a8580c" stroke-width="1.1"/><circle cx="195.10" cy="395.50" r="2.65" fill="none" stroke="#a8580c" stroke-width="1.1"/><circle cx="208.70" cy="381.60" r="2.65" fill="none" stroke="#a8580c" stroke-width="1.1"/><circle cx="222.30" cy="375.80" r="2.65" fill="none" stroke="#a8580c" stroke-width="1.1"/><circle cx="235.90" cy="389.70" r="2.65" fill="none" stroke="#a8580c" stroke-width="1.1"/><circle cx="249.50" cy="390.70" r="2.65" fill="none" stroke="#a8580c" stroke-width="1.1"/><circle cx="263.10" cy="404.40" r="2.65" fill="none" stroke="#a8580c" stroke-width="1.1"/><circle cx="276.70" cy="413.50" r="2.65" fill="none" stroke="#a8580c" stroke-width="1.1"/><circle cx="290.30" cy="384.10" r="2.65" fill="none" stroke="#a8580c" stroke-width="1.1"/><circle cx="303.90" cy="391.30" r="2.65" fill="none" stroke="#a8580c" stroke-width="1.1"/><circle cx="317.50" cy="373.10" r="2.65" fill="none" stroke="#a8580c" stroke-width="1.1"/><circle cx="331.10" cy="428.10" r="2.65" fill="none" stroke="#a8580c" stroke-width="1.1"/><circle cx="344.70" cy="367.80" r="2.65" fill="none" stroke="#a8580c" stroke-width="1.1"/><circle cx="358.30" cy="481.96" r="2.65" fill="none" stroke="#a8580c" stroke-width="1.1"/></g><g clip-path="url(#cr)"><path d="M59.10,349.00 L72.70,365.20 L86.30,372.80 L99.90,376.60 L113.50,366.10 L127.10,376.80 L140.70,383.70 L154.30,392.70 L167.90,400.90 L181.50,400.20 L195.10,421.50 L208.70,407.00 L222.30,424.20 L235.90,447.10 L249.50,443.70 L263.10,506.98 L276.70,492.34 L290.30,472.40 L303.90,470.00 L317.50,539.20 L331.10,520.56 L344.70,511.24 L358.30,530.95" fill="none" stroke="#339900" stroke-width="1.15" stroke-dasharray="2.6,1.9"/><line x1="59.10" y1="341.70" x2="59.10" y2="356.97" stroke="#339900" stroke-width="1" stroke-dasharray="2.6,1.9"/><line x1="57.90" y1="341.70" x2="60.30" y2="341.70" stroke="#339900" stroke-width="1"/><line x1="57.90" y1="356.97" x2="60.30" y2="356.97" stroke="#339900" stroke-width="1"/><line x1="72.70" y1="359.90" x2="72.70" y2="370.84" stroke="#339900" stroke-width="1" stroke-dasharray="2.6,1.9"/><line x1="71.50" y1="359.90" x2="73.90" y2="359.90" stroke="#339900" stroke-width="1"/><line x1="71.50" y1="370.84" x2="73.90" y2="370.84" stroke="#339900" stroke-width="1"/><line x1="86.30" y1="368.80" x2="86.30" y2="376.99" stroke="#339900" stroke-width="1" stroke-dasharray="2.6,1.9"/><line x1="85.10" y1="368.80" x2="87.50" y2="368.80" stroke="#339900" stroke-width="1"/><line x1="85.10" y1="376.99" x2="87.50" y2="376.99" stroke="#339900" stroke-width="1"/><line x1="99.90" y1="372.60" x2="99.90" y2="380.79" stroke="#339900" stroke-width="1" stroke-dasharray="2.6,1.9"/><line x1="98.70" y1="372.60" x2="101.10" y2="372.60" stroke="#339900" stroke-width="1"/><line x1="98.70" y1="380.79" x2="101.10" y2="380.79" stroke="#339900" stroke-width="1"/><line x1="113.50" y1="362.60" x2="113.50" y2="369.75" stroke="#339900" stroke-width="1" stroke-dasharray="2.6,1.9"/><line x1="112.30" y1="362.60" x2="114.70" y2="362.60" stroke="#339900" stroke-width="1"/><line x1="112.30" y1="369.75" x2="114.70" y2="369.75" stroke="#339900" stroke-width="1"/><line x1="127.10" y1="373.30" x2="127.10" y2="380.45" stroke="#339900" stroke-width="1" stroke-dasharray="2.6,1.9"/><line x1="125.90" y1="373.30" x2="128.30" y2="373.30" stroke="#339900" stroke-width="1"/><line x1="125.90" y1="380.45" x2="128.30" y2="380.45" stroke="#339900" stroke-width="1"/><line x1="140.70" y1="380.20" x2="140.70" y2="387.35" stroke="#339900" stroke-width="1" stroke-dasharray="2.6,1.9"/><line x1="139.50" y1="380.20" x2="141.90" y2="380.20" stroke="#339900" stroke-width="1"/><line x1="139.50" y1="387.35" x2="141.90" y2="387.35" stroke="#339900" stroke-width="1"/><line x1="154.30" y1="389.20" x2="154.30" y2="396.35" stroke="#339900" stroke-width="1" stroke-dasharray="2.6,1.9"/><line x1="153.10" y1="389.20" x2="155.50" y2="389.20" stroke="#339900" stroke-width="1"/><line x1="153.10" y1="396.35" x2="155.50" y2="396.35" stroke="#339900" stroke-width="1"/><line x1="167.90" y1="397.40" x2="167.90" y2="404.55" stroke="#339900" stroke-width="1" stroke-dasharray="2.6,1.9"/><line x1="166.70" y1="397.40" x2="169.10" y2="397.40" stroke="#339900" stroke-width="1"/><line x1="166.70" y1="404.55" x2="169.10" y2="404.55" stroke="#339900" stroke-width="1"/><line x1="181.50" y1="396.70" x2="181.50" y2="403.85" stroke="#339900" stroke-width="1" stroke-dasharray="2.6,1.9"/><line x1="180.30" y1="396.70" x2="182.70" y2="396.70" stroke="#339900" stroke-width="1"/><line x1="180.30" y1="403.85" x2="182.70" y2="403.85" stroke="#339900" stroke-width="1"/><line x1="195.10" y1="418.00" x2="195.10" y2="425.15" stroke="#339900" stroke-width="1" stroke-dasharray="2.6,1.9"/><line x1="193.90" y1="418.00" x2="196.30" y2="418.00" stroke="#339900" stroke-width="1"/><line x1="193.90" y1="425.15" x2="196.30" y2="425.15" stroke="#339900" stroke-width="1"/><line x1="208.70" y1="403.50" x2="208.70" y2="410.65" stroke="#339900" stroke-width="1" stroke-dasharray="2.6,1.9"/><line x1="207.50" y1="403.50" x2="209.90" y2="403.50" stroke="#339900" stroke-width="1"/><line x1="207.50" y1="410.65" x2="209.90" y2="410.65" stroke="#339900" stroke-width="1"/><line x1="222.30" y1="420.20" x2="222.30" y2="428.39" stroke="#339900" stroke-width="1" stroke-dasharray="2.6,1.9"/><line x1="221.10" y1="420.20" x2="223.50" y2="420.20" stroke="#339900" stroke-width="1"/><line x1="221.10" y1="428.39" x2="223.50" y2="428.39" stroke="#339900" stroke-width="1"/><line x1="235.90" y1="442.60" x2="235.90" y2="451.84" stroke="#339900" stroke-width="1" stroke-dasharray="2.6,1.9"/><line x1="234.70" y1="442.60" x2="237.10" y2="442.60" stroke="#339900" stroke-width="1"/><line x1="234.70" y1="451.84" x2="237.10" y2="451.84" stroke="#339900" stroke-width="1"/><line x1="249.50" y1="439.20" x2="249.50" y2="448.44" stroke="#339900" stroke-width="1" stroke-dasharray="2.6,1.9"/><line x1="248.30" y1="439.20" x2="250.70" y2="439.20" stroke="#339900" stroke-width="1"/><line x1="248.30" y1="448.44" x2="250.70" y2="448.44" stroke="#339900" stroke-width="1"/><line x1="263.10" y1="501.98" x2="263.10" y2="512.29" stroke="#339900" stroke-width="1" stroke-dasharray="2.6,1.9"/><line x1="261.90" y1="501.98" x2="264.30" y2="501.98" stroke="#339900" stroke-width="1"/><line x1="261.90" y1="512.29" x2="264.30" y2="512.29" stroke="#339900" stroke-width="1"/><line x1="276.70" y1="487.34" x2="276.70" y2="497.65" stroke="#339900" stroke-width="1" stroke-dasharray="2.6,1.9"/><line x1="275.50" y1="487.34" x2="277.90" y2="487.34" stroke="#339900" stroke-width="1"/><line x1="275.50" y1="497.65" x2="277.90" y2="497.65" stroke="#339900" stroke-width="1"/><line x1="290.30" y1="457.90" x2="290.30" y2="489.80" stroke="#339900" stroke-width="1" stroke-dasharray="2.6,1.9"/><line x1="289.10" y1="457.90" x2="291.50" y2="457.90" stroke="#339900" stroke-width="1"/><line x1="289.10" y1="489.80" x2="291.50" y2="489.80" stroke="#339900" stroke-width="1"/><line x1="303.90" y1="454.00" x2="303.90" y2="489.61" stroke="#339900" stroke-width="1" stroke-dasharray="2.6,1.9"/><line x1="302.70" y1="454.00" x2="305.10" y2="454.00" stroke="#339900" stroke-width="1"/><line x1="302.70" y1="489.61" x2="305.10" y2="489.61" stroke="#339900" stroke-width="1"/><line x1="317.50" y1="510.77" x2="317.50" y2="581.63" stroke="#339900" stroke-width="1" stroke-dasharray="2.6,1.9"/><line x1="316.30" y1="510.77" x2="318.70" y2="510.77" stroke="#339900" stroke-width="1"/><line x1="316.30" y1="581.63" x2="318.70" y2="581.63" stroke="#339900" stroke-width="1"/><line x1="331.10" y1="491.82" x2="331.10" y2="563.71" stroke="#339900" stroke-width="1" stroke-dasharray="2.6,1.9"/><line x1="329.90" y1="491.82" x2="332.30" y2="491.82" stroke="#339900" stroke-width="1"/><line x1="329.90" y1="563.71" x2="332.30" y2="563.71" stroke="#339900" stroke-width="1"/><line x1="344.70" y1="478.99" x2="344.70" y2="562.96" stroke="#339900" stroke-width="1" stroke-dasharray="2.6,1.9"/><line x1="343.50" y1="478.99" x2="345.90" y2="478.99" stroke="#339900" stroke-width="1"/><line x1="343.50" y1="562.96" x2="345.90" y2="562.96" stroke="#339900" stroke-width="1"/><line x1="358.30" y1="500.95" x2="358.30" y2="577.00" stroke="#339900" stroke-width="1" stroke-dasharray="2.6,1.9"/><line x1="357.10" y1="500.95" x2="359.50" y2="500.95" stroke="#339900" stroke-width="1"/><line x1="357.10" y1="577.00" x2="359.50" y2="577.00" stroke="#339900" stroke-width="1"/><rect x="56.60" y="346.50" width="5.0" height="5.0" fill="none" stroke="#339900" stroke-width="1.2"/><rect x="70.20" y="362.70" width="5.0" height="5.0" fill="none" stroke="#339900" stroke-width="1.2"/><rect x="83.80" y="370.30" width="5.0" height="5.0" fill="none" stroke="#339900" stroke-width="1.2"/><rect x="97.40" y="374.10" width="5.0" height="5.0" fill="none" stroke="#339900" stroke-width="1.2"/><rect x="111.00" y="363.60" width="5.0" height="5.0" fill="none" stroke="#339900" stroke-width="1.2"/><rect x="124.60" y="374.30" width="5.0" height="5.0" fill="none" stroke="#339900" stroke-width="1.2"/><rect x="138.20" y="381.20" width="5.0" height="5.0" fill="none" stroke="#339900" stroke-width="1.2"/><rect x="151.80" y="390.20" width="5.0" height="5.0" fill="none" stroke="#339900" stroke-width="1.2"/><rect x="165.40" y="398.40" width="5.0" height="5.0" fill="none" stroke="#339900" stroke-width="1.2"/><rect x="179.00" y="397.70" width="5.0" height="5.0" fill="none" stroke="#339900" stroke-width="1.2"/><rect x="192.60" y="419.00" width="5.0" height="5.0" fill="none" stroke="#339900" stroke-width="1.2"/><rect x="206.20" y="404.50" width="5.0" height="5.0" fill="none" stroke="#339900" stroke-width="1.2"/><rect x="219.80" y="421.70" width="5.0" height="5.0" fill="none" stroke="#339900" stroke-width="1.2"/><rect x="233.40" y="444.60" width="5.0" height="5.0" fill="none" stroke="#339900" stroke-width="1.2"/><rect x="247.00" y="441.20" width="5.0" height="5.0" fill="none" stroke="#339900" stroke-width="1.2"/><rect x="260.60" y="504.48" width="5.0" height="5.0" fill="none" stroke="#339900" stroke-width="1.2"/><rect x="274.20" y="489.84" width="5.0" height="5.0" fill="none" stroke="#339900" stroke-width="1.2"/><rect x="287.80" y="469.90" width="5.0" height="5.0" fill="none" stroke="#339900" stroke-width="1.2"/><rect x="301.40" y="467.50" width="5.0" height="5.0" fill="none" stroke="#339900" stroke-width="1.2"/><rect x="315.00" y="536.70" width="5.0" height="5.0" fill="none" stroke="#339900" stroke-width="1.2"/><rect x="328.60" y="518.06" width="5.0" height="5.0" fill="none" stroke="#339900" stroke-width="1.2"/><rect x="342.20" y="508.74" width="5.0" height="5.0" fill="none" stroke="#339900" stroke-width="1.2"/><rect x="355.80" y="528.45" width="5.0" height="5.0" fill="none" stroke="#339900" stroke-width="1.2"/></g><g clip-path="url(#cr)"><path d="M59.10,370.50 L72.70,396.70 L86.30,398.80 L99.90,403.30 L113.50,395.10 L127.10,397.80 L140.70,399.10 L154.30,399.00 L167.90,396.80 L181.50,390.80 L195.10,399.90 L208.70,382.50 L222.30,391.60 L235.90,399.70 L249.50,409.60 L263.10,411.40 L276.70,412.20 L290.30,408.50 L303.90,406.40 L317.50,406.80 L331.10,402.50 L344.70,410.70 L358.30,462.80" fill="none" stroke="#0000ff" stroke-width="1.3"/><line x1="59.10" y1="364.20" x2="59.10" y2="377.29" stroke="#0000ff" stroke-width="1"/><line x1="57.90" y1="364.20" x2="60.30" y2="364.20" stroke="#0000ff" stroke-width="1"/><line x1="57.90" y1="377.29" x2="60.30" y2="377.29" stroke="#0000ff" stroke-width="1"/><line x1="72.70" y1="392.70" x2="72.70" y2="400.89" stroke="#0000ff" stroke-width="1"/><line x1="71.50" y1="392.70" x2="73.90" y2="392.70" stroke="#0000ff" stroke-width="1"/><line x1="71.50" y1="400.89" x2="73.90" y2="400.89" stroke="#0000ff" stroke-width="1"/><line x1="86.30" y1="395.30" x2="86.30" y2="402.45" stroke="#0000ff" stroke-width="1"/><line x1="85.10" y1="395.30" x2="87.50" y2="395.30" stroke="#0000ff" stroke-width="1"/><line x1="85.10" y1="402.45" x2="87.50" y2="402.45" stroke="#0000ff" stroke-width="1"/><line x1="99.90" y1="399.80" x2="99.90" y2="406.95" stroke="#0000ff" stroke-width="1"/><line x1="98.70" y1="399.80" x2="101.10" y2="399.80" stroke="#0000ff" stroke-width="1"/><line x1="98.70" y1="406.95" x2="101.10" y2="406.95" stroke="#0000ff" stroke-width="1"/><line x1="113.50" y1="391.60" x2="113.50" y2="398.75" stroke="#0000ff" stroke-width="1"/><line x1="112.30" y1="391.60" x2="114.70" y2="391.60" stroke="#0000ff" stroke-width="1"/><line x1="112.30" y1="398.75" x2="114.70" y2="398.75" stroke="#0000ff" stroke-width="1"/><line x1="127.10" y1="394.30" x2="127.10" y2="401.45" stroke="#0000ff" stroke-width="1"/><line x1="125.90" y1="394.30" x2="128.30" y2="394.30" stroke="#0000ff" stroke-width="1"/><line x1="125.90" y1="401.45" x2="128.30" y2="401.45" stroke="#0000ff" stroke-width="1"/><line x1="140.70" y1="395.60" x2="140.70" y2="402.75" stroke="#0000ff" stroke-width="1"/><line x1="139.50" y1="395.60" x2="141.90" y2="395.60" stroke="#0000ff" stroke-width="1"/><line x1="139.50" y1="402.75" x2="141.90" y2="402.75" stroke="#0000ff" stroke-width="1"/><line x1="154.30" y1="395.50" x2="154.30" y2="402.65" stroke="#0000ff" stroke-width="1"/><line x1="153.10" y1="395.50" x2="155.50" y2="395.50" stroke="#0000ff" stroke-width="1"/><line x1="153.10" y1="402.65" x2="155.50" y2="402.65" stroke="#0000ff" stroke-width="1"/><line x1="167.90" y1="393.30" x2="167.90" y2="400.45" stroke="#0000ff" stroke-width="1"/><line x1="166.70" y1="393.30" x2="169.10" y2="393.30" stroke="#0000ff" stroke-width="1"/><line x1="166.70" y1="400.45" x2="169.10" y2="400.45" stroke="#0000ff" stroke-width="1"/><line x1="181.50" y1="387.30" x2="181.50" y2="394.45" stroke="#0000ff" stroke-width="1"/><line x1="180.30" y1="387.30" x2="182.70" y2="387.30" stroke="#0000ff" stroke-width="1"/><line x1="180.30" y1="394.45" x2="182.70" y2="394.45" stroke="#0000ff" stroke-width="1"/><line x1="195.10" y1="396.40" x2="195.10" y2="403.55" stroke="#0000ff" stroke-width="1"/><line x1="193.90" y1="396.40" x2="196.30" y2="396.40" stroke="#0000ff" stroke-width="1"/><line x1="193.90" y1="403.55" x2="196.30" y2="403.55" stroke="#0000ff" stroke-width="1"/><line x1="208.70" y1="379.00" x2="208.70" y2="386.15" stroke="#0000ff" stroke-width="1"/><line x1="207.50" y1="379.00" x2="209.90" y2="379.00" stroke="#0000ff" stroke-width="1"/><line x1="207.50" y1="386.15" x2="209.90" y2="386.15" stroke="#0000ff" stroke-width="1"/><line x1="222.30" y1="388.10" x2="222.30" y2="395.25" stroke="#0000ff" stroke-width="1"/><line x1="221.10" y1="388.10" x2="223.50" y2="388.10" stroke="#0000ff" stroke-width="1"/><line x1="221.10" y1="395.25" x2="223.50" y2="395.25" stroke="#0000ff" stroke-width="1"/><line x1="235.90" y1="395.70" x2="235.90" y2="403.89" stroke="#0000ff" stroke-width="1"/><line x1="234.70" y1="395.70" x2="237.10" y2="395.70" stroke="#0000ff" stroke-width="1"/><line x1="234.70" y1="403.89" x2="237.10" y2="403.89" stroke="#0000ff" stroke-width="1"/><line x1="249.50" y1="405.10" x2="249.50" y2="414.34" stroke="#0000ff" stroke-width="1"/><line x1="248.30" y1="405.10" x2="250.70" y2="405.10" stroke="#0000ff" stroke-width="1"/><line x1="248.30" y1="414.34" x2="250.70" y2="414.34" stroke="#0000ff" stroke-width="1"/><line x1="263.10" y1="406.40" x2="263.10" y2="416.70" stroke="#0000ff" stroke-width="1"/><line x1="261.90" y1="406.40" x2="264.30" y2="406.40" stroke="#0000ff" stroke-width="1"/><line x1="261.90" y1="416.70" x2="264.30" y2="416.70" stroke="#0000ff" stroke-width="1"/><line x1="276.70" y1="407.20" x2="276.70" y2="417.50" stroke="#0000ff" stroke-width="1"/><line x1="275.50" y1="407.20" x2="277.90" y2="407.20" stroke="#0000ff" stroke-width="1"/><line x1="275.50" y1="417.50" x2="277.90" y2="417.50" stroke="#0000ff" stroke-width="1"/><line x1="290.30" y1="402.50" x2="290.30" y2="414.94" stroke="#0000ff" stroke-width="1"/><line x1="289.10" y1="402.50" x2="291.50" y2="402.50" stroke="#0000ff" stroke-width="1"/><line x1="289.10" y1="414.94" x2="291.50" y2="414.94" stroke="#0000ff" stroke-width="1"/><line x1="303.90" y1="399.40" x2="303.90" y2="414.01" stroke="#0000ff" stroke-width="1"/><line x1="302.70" y1="399.40" x2="305.10" y2="399.40" stroke="#0000ff" stroke-width="1"/><line x1="302.70" y1="414.01" x2="305.10" y2="414.01" stroke="#0000ff" stroke-width="1"/><line x1="317.50" y1="397.69" x2="317.50" y2="416.97" stroke="#0000ff" stroke-width="1"/><line x1="316.30" y1="397.69" x2="318.70" y2="397.69" stroke="#0000ff" stroke-width="1"/><line x1="316.30" y1="416.97" x2="318.70" y2="416.97" stroke="#0000ff" stroke-width="1"/><line x1="331.10" y1="390.83" x2="331.10" y2="415.97" stroke="#0000ff" stroke-width="1"/><line x1="329.90" y1="390.83" x2="332.30" y2="390.83" stroke="#0000ff" stroke-width="1"/><line x1="329.90" y1="415.97" x2="332.30" y2="415.97" stroke="#0000ff" stroke-width="1"/><line x1="344.70" y1="398.50" x2="344.70" y2="424.89" stroke="#0000ff" stroke-width="1"/><line x1="343.50" y1="398.50" x2="345.90" y2="398.50" stroke="#0000ff" stroke-width="1"/><line x1="343.50" y1="424.89" x2="345.90" y2="424.89" stroke="#0000ff" stroke-width="1"/><line x1="358.30" y1="446.88" x2="358.30" y2="482.28" stroke="#0000ff" stroke-width="1"/><line x1="357.10" y1="446.88" x2="359.50" y2="446.88" stroke="#0000ff" stroke-width="1"/><line x1="357.10" y1="482.28" x2="359.50" y2="482.28" stroke="#0000ff" stroke-width="1"/><path d="M59.10,367.30 L62.10,372.70 L56.10,372.70 Z" fill="#0000ff"/><path d="M72.70,393.50 L75.70,398.90 L69.70,398.90 Z" fill="#0000ff"/><path d="M86.30,395.60 L89.30,401.00 L83.30,401.00 Z" fill="#0000ff"/><path d="M99.90,400.10 L102.90,405.50 L96.90,405.50 Z" fill="#0000ff"/><path d="M113.50,391.90 L116.50,397.30 L110.50,397.30 Z" fill="#0000ff"/><path d="M127.10,394.60 L130.10,400.00 L124.10,400.00 Z" fill="#0000ff"/><path d="M140.70,395.90 L143.70,401.30 L137.70,401.30 Z" fill="#0000ff"/><path d="M154.30,395.80 L157.30,401.20 L151.30,401.20 Z" fill="#0000ff"/><path d="M167.90,393.60 L170.90,399.00 L164.90,399.00 Z" fill="#0000ff"/><path d="M181.50,387.60 L184.50,393.00 L178.50,393.00 Z" fill="#0000ff"/><path d="M195.10,396.70 L198.10,402.10 L192.10,402.10 Z" fill="#0000ff"/><path d="M208.70,379.30 L211.70,384.70 L205.70,384.70 Z" fill="#0000ff"/><path d="M222.30,388.40 L225.30,393.80 L219.30,393.80 Z" fill="#0000ff"/><path d="M235.90,396.50 L238.90,401.90 L232.90,401.90 Z" fill="#0000ff"/><path d="M249.50,406.40 L252.50,411.80 L246.50,411.80 Z" fill="#0000ff"/><path d="M263.10,408.20 L266.10,413.60 L260.10,413.60 Z" fill="#0000ff"/><path d="M276.70,409.00 L279.70,414.40 L273.70,414.40 Z" fill="#0000ff"/><path d="M290.30,405.30 L293.30,410.70 L287.30,410.70 Z" fill="#0000ff"/><path d="M303.90,403.20 L306.90,408.60 L300.90,408.60 Z" fill="#0000ff"/><path d="M317.50,403.60 L320.50,409.00 L314.50,409.00 Z" fill="#0000ff"/><path d="M331.10,399.30 L334.10,404.70 L328.10,404.70 Z" fill="#0000ff"/><path d="M344.70,407.50 L347.70,412.90 L341.70,412.90 Z" fill="#0000ff"/><path d="M358.30,459.60 L361.30,465.00 L355.30,465.00 Z" fill="#0000ff"/></g>

<rect x="73.9" y="231.4" width="5.2" height="5.2" fill="#000"/>
<line x1="64" y1="246.8" x2="88" y2="246.8" stroke="#a8580c" stroke-width="1" stroke-dasharray="2.6,1.9"/>
<circle cx="76.4" cy="246.8" r="2.6" fill="none" stroke="#a8580c" stroke-width="1"/>
<line x1="64" y1="259.8" x2="88" y2="259.8" stroke="#339900" stroke-width="1" stroke-dasharray="2.6,1.9"/>
<rect x="73.9" y="257.3" width="5" height="5" fill="none" stroke="#339900" stroke-width="1"/>
<line x1="64" y1="272.4" x2="88" y2="272.4" stroke="#0000ff" stroke-width="0.9"/>
<path d="M76.6,269.6 L79.4,275.3 L73.8,275.3 Z" fill="#0000ff"/>
<g font-family="Liberation Sans, sans-serif" font-size="9.5" fill="#000">
<text x="94.3" y="236.6" textLength="29" lengthAdjust="spacingAndGlyphs">ATLAS</text>
<text x="94.3" y="249.8" textLength="94.5" lengthAdjust="spacingAndGlyphs">Herwig++ 2.7.1 default</text>
<text x="94.3" y="262.6" textLength="83" lengthAdjust="spacingAndGlyphs">Herwig 7.2.1 default</text>
<text x="94.3" y="275.6" textLength="83" lengthAdjust="spacingAndGlyphs">Pythia 8.315 default</text>
</g>
<text x="162.5" y="302.4" font-family="Liberation Sans, sans-serif" font-size="8" fill="#999" textLength="90.5" lengthAdjust="spacingAndGlyphs">(ATLAS_2019_I1736531)</text>

<rect x="45.5" y="17.5" width="325.70" height="300.00" fill="none" stroke="#000" stroke-width="1.3"/>
<rect x="45.5" y="317.5" width="325.70" height="160.20" fill="none" stroke="#000" stroke-width="1.3"/>
<g font-family="Liberation Sans, sans-serif" fill="#000">
<text x="51.3" y="13.7" font-size="12" textLength="78.5" lengthAdjust="spacingAndGlyphs">13000 GeV pp</text>
<text x="365.5" y="13.7" font-size="12" text-anchor="end">Z+Jet</text>
<text x="75.2" y="41.8" font-size="12" letter-spacing="0.045">Transverse region, 80 &lt; p<tspan font-size="8.6" dy="-5.3" dx="-4">Z</tspan><tspan font-size="8.6" dy="12.5" dx="-4.3">T</tspan><tspan dy="-7.2" dx="0.8"> &lt; 120 [GeV], low thrust</tspan></text>
<text x="40" y="25" font-size="11" text-anchor="end">10</text>
<text x="40" y="100" font-size="11" text-anchor="end">1</text>
<text x="41" y="176.3" font-size="11" text-anchor="end">10<tspan font-size="8" dy="-4">−1</tspan></text>
<text x="40" y="252.3" font-size="11" text-anchor="end">10<tspan font-size="8" dy="-4">−2</tspan></text>
<text x="38" y="341" font-size="11" text-anchor="end">2</text>
<text x="38" y="401.5" font-size="11" text-anchor="end">1</text>
<text x="38" y="461.7" font-size="11" text-anchor="end">0.5</text>
<text x="374" y="340.8" font-size="11">2</text>
<text x="374" y="401.5" font-size="11">1</text>
<text x="374" y="461.7" font-size="11">0.5</text>
<text x="59.1" y="488.7" font-size="11" text-anchor="middle">0</text>
<text x="130.3" y="488.7" font-size="11" text-anchor="middle">1</text>
<text x="201.4" y="488.7" font-size="11" text-anchor="middle">2</text>
<text x="272.6" y="488.7" font-size="11" text-anchor="middle">3</text>
<text x="343.7" y="488.7" font-size="11" text-anchor="middle">4</text>
<text x="318" y="502.5" font-size="12">N<tspan font-size="8" dy="4">ch</tspan><tspan dy="-4">/dη dϕ</tspan></text>
<text transform="translate(18,429) rotate(-90)" font-size="9.5" textLength="62" lengthAdjust="spacingAndGlyphs">Ratio to ATLAS</text>
<text transform="translate(15.8,133.4) rotate(-90)" font-size="12" textLength="111.5" lengthAdjust="spacingAndGlyphs">1/N<tspan font-size="7.5" dy="3.5">ev</tspan><tspan dy="-3.5"> dN</tspan><tspan font-size="7.5" dy="3.5">ev</tspan><tspan dy="-3.5">/dN</tspan><tspan font-size="7.5" dy="3.5">ch</tspan><tspan dy="-3.5">/dη dϕ</tspan></text>
<text transform="translate(380.2,129) rotate(-90)" font-size="9.6" fill="#666" textLength="112" lengthAdjust="spacingAndGlyphs">Rivet 4.1.0, ≥ 2.3M events</text>
<text transform="translate(380.2,315) rotate(-90)" font-size="9.6" fill="#666" textLength="149" lengthAdjust="spacingAndGlyphs">mcplots.cern.ch [arXiv:2401.10621]</text>
</g>
</svg></body></html>
